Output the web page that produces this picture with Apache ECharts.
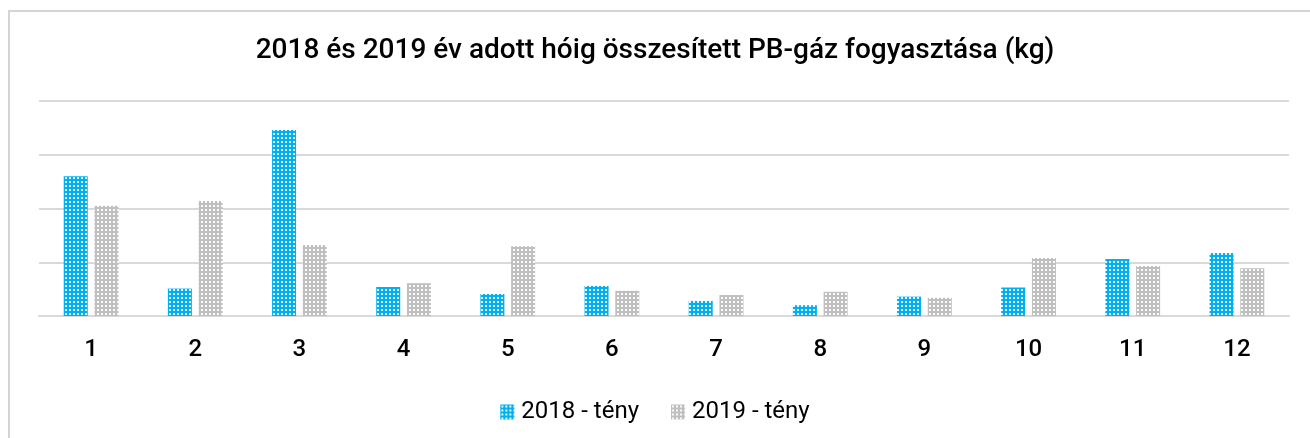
<!DOCTYPE html>
<html>
<head>
<meta charset="utf-8">
<script src="https://cdn.jsdelivr.net/npm/echarts@6/dist/echarts.min.js"></script>
<style>
  html, body { margin: 0; padding: 0; background: #fff; }
  #chart { width: 1310px; height: 438px; }
</style>
</head>
<body>
<div id="chart"></div>
<script>
// hónapok
const months = ["1", "2", "3", "4", "5", "6", "7", "8", "9", "10", "11", "12"];
// 2018 és 2019 tény értékek (relatív egységben)
const teny2018 = [260, 51, 346, 54, 41, 56, 28, 20, 36, 53, 106, 117];
const teny2019 = [205, 214, 132, 61, 130, 47, 39, 45, 34, 108, 93, 89];
const seriesNames = ["2018 - tény", "2019 - tény"];

// pöttyös minta az oszlopokhoz
function dotPattern(color) {
  const c = document.createElement("canvas");
  c.width = 4;
  c.height = 4;
  const ctx = c.getContext("2d");
  ctx.fillStyle = color;
  ctx.fillRect(0, 0, 4, 4);
  ctx.fillStyle = "rgba(255,255,255,0.9)";
  ctx.fillRect(1, 1, 2, 2);
  return { image: c, repeat: "repeat" };
}

const chartDom = document.getElementById("chart");
const myChart = echarts.init(chartDom);

const options = {
  animation: false,
  title: {
    text: "2018 és 2019 év adott hóig összesített PB-gáz fogyasztása (kg)",
    left: "center",
    top: 32,
    textStyle: {
      fontFamily: "Roboto",
      fontWeight: 500,
      fontSize: 28,
      color: "#000",
    },
  },
  graphic: [
    {
      type: "rect",
      shape: { x: 9, y: 11, width: 1400, height: 500 },
      style: { fill: "none", stroke: "#d4d4d4", lineWidth: 2 },
      silent: true,
    },
  ],
  legend: {
    top: 395,
    left: "center",
    itemWidth: 14,
    itemHeight: 15,
    itemGap: 32,
    icon: "rect",
    textStyle: { fontFamily: "Roboto", fontSize: 24, color: "#000", padding: [0, 0, 0, 2] },
    data: seriesNames,
  },
  grid: { left: 39, right: 21, top: 101, bottom: 122 },
  xAxis: {
    type: "category",
    data: months,
    axisLine: { lineStyle: { color: "#d9d9d9", width: 2 } },
    axisTick: { show: false },
    axisLabel: {
      margin: 22,
      fontFamily: "Roboto",
      fontWeight: 500,
      fontSize: 24,
      color: "#000",
    },
  },
  yAxis: {
    type: "value",
    min: 0,
    max: 400,
    interval: 100,
    axisLabel: { show: false },
    axisLine: { show: false },
    axisTick: { show: false },
    splitLine: { lineStyle: { color: "#d9d9d9", width: 2 } },
  },
  series: [
    {
      name: seriesNames[0],
      type: "bar",
      data: teny2018,
      barWidth: 24,
      barGap: "28%",
      itemStyle: { color: dotPattern("#00b0f0") },
    },
    {
      name: seriesNames[1],
      type: "bar",
      data: teny2019,
      barWidth: 24,
      barGap: "28%",
      itemStyle: { color: dotPattern("#bfbfbf") },
    },
  ],
};
options && myChart.setOption(options);
window.onresize = myChart.resize;
</script>
</body>
</html>
